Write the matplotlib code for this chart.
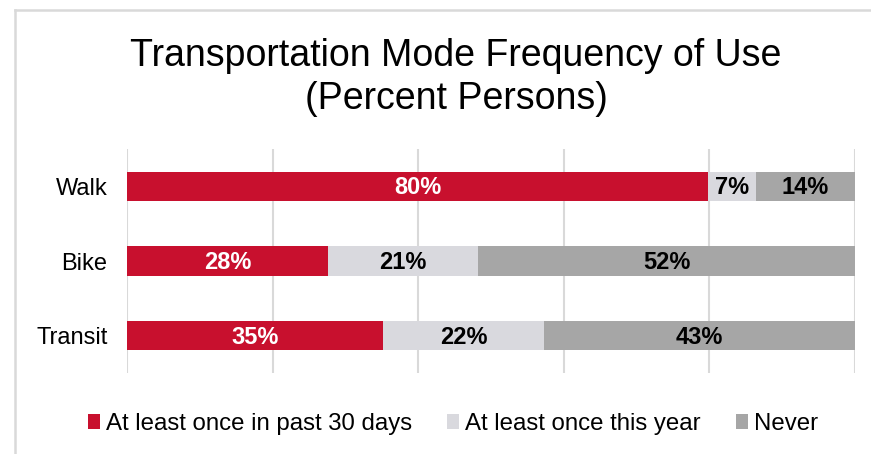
import matplotlib.pyplot as plt
import matplotlib.lines as mlines
import numpy as np

plt.rcParams['font.family'] = ['Liberation Sans', 'DejaVu Sans']

# data (percent persons)
modes = ['Walk', 'Bike', 'Transit']
series = ['At least once in past 30 days', 'At least once this year', 'Never']
past_30_days = [79.8, 27.6, 35.2]
this_year = [6.6, 20.6, 22.1]
never = [13.6, 51.8, 42.7]

colors = ['#C8102E', '#D9D9DE', '#A6A6A6']
text_colors = ['white', 'black', 'black']

fig = plt.figure(figsize=(8.71, 4.54), dpi=100)
ax = fig.add_axes([127 / 871, 1 - 373 / 454, 728 / 871, 224 / 454])

# light frame of the original chart box (only top and left edges visible)
fig.add_artist(mlines.Line2D([15 / 871, 15 / 871], [0, 1 - 9.5 / 454],
                             transform=fig.transFigure, color='#D9D9D9', linewidth=1.8))
fig.add_artist(mlines.Line2D([15 / 871, 1], [1 - 9.5 / 454, 1 - 9.5 / 454],
                             transform=fig.transFigure, color='#D9D9D9', linewidth=1.8))

y = np.arange(len(modes))
left = np.zeros(len(modes))
for vals, name, c, tc in zip([past_30_days, this_year, never], series, colors, text_colors):
    vals = np.array(vals)
    ax.barh(y, vals, left=left, height=0.39, color=c, label=name, zorder=3)
    for yi, l, v in zip(y, left, vals):
        ax.text(l + v / 2, yi + 0.02, '{:.0f}%'.format(v), ha='center', va='center',
                color=tc, fontsize=17, fontweight='bold', zorder=4)
    left += vals

ax.set_xlim(0, 100)
ax.set_ylim(2.5, -0.5)
ax.set_xticks(np.arange(0, 101, 20))
ax.xaxis.grid(True, color='#D9D9D9', linewidth=1.5, zorder=0)
ax.tick_params(axis='x', which='both', length=0, labelbottom=False)
ax.tick_params(axis='y', length=0, labelsize=17, pad=14)
ax.set_yticks(y)
ax.set_yticklabels(modes)
for s in ax.spines.values():
    s.set_visible(False)

fig.text(0.5235, 1 - 56 / 454, 'Transportation Mode Frequency of Use', ha='center', va='center', fontsize=27)
fig.text(0.5235, 1 - 99 / 454, '(Percent Persons)', ha='center', va='center', fontsize=27)

fig.legend(loc='center', bbox_to_anchor=(453 / 871, 1 - 424 / 454), ncol=3, frameon=False,
           fontsize=17.3, handlelength=0.5, handleheight=0.55, handletextpad=0.25,
           columnspacing=1.45)

plt.savefig('out.png', dpi=100)
plt.close()
